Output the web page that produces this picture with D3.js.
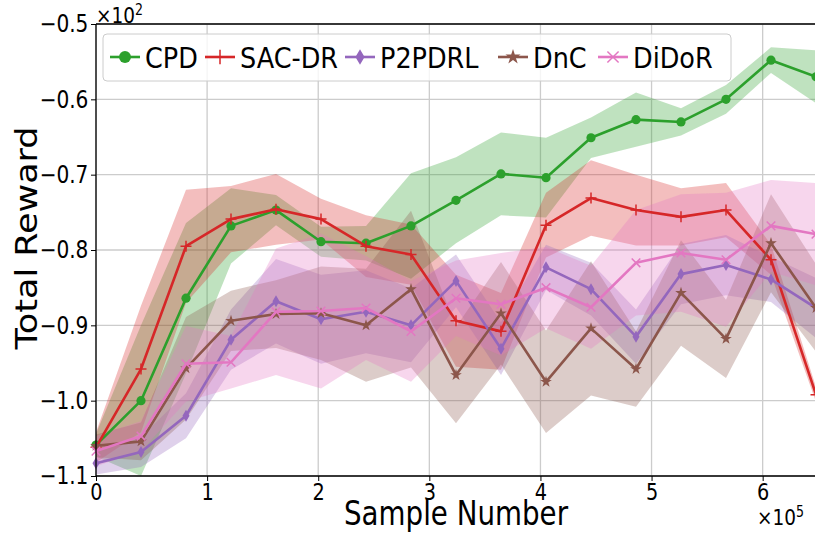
<!DOCTYPE html>
<html><head><meta charset="utf-8">
<script src="https://cdn.jsdelivr.net/npm/d3@7"></script>
<style>body{margin:0;background:#fff} svg text{font-family:"DejaVu Sans",sans-serif;fill:#000}</style>
</head><body><svg id="c" width="815" height="533"></svg>
<script>
// ---- data ----
const sampleNumber = [0, 40500, 81000, 121500, 162000, 202500, 243000, 283500, 324000, 364500, 405000, 445500, 486000, 526500, 567000, 607500, 648000];
const seriesNames = ["CPD", "SAC-DR", "P2PDRL", "DnC", "DiDoR"];
const cpdMean   = [-105.9, -100.0, -86.4, -76.8, -74.7, -78.9, -79.1, -76.8, -73.4, -69.9, -70.4, -65.1, -62.7, -63.0, -60.0, -54.8, -57.0];
const cpdStd    = [1.5, 10, 10, 5, 2, 2, 2.3, 7, 5.7, 5.5, 5.3, 2.7, 3.6, 1.8, 1.9, 1.7, 3.5];
const sacMean   = [-106.2, -95.8, -79.5, -75.9, -74.6, -75.9, -79.5, -80.6, -89.4, -90.8, -76.7, -73.1, -74.7, -75.6, -74.7, -81.3, -99.2];
const sacStd    = [2, 8.4, 7.5, 4.4, 4.7, 2.7, 4.1, 4, 6.1, 5.1, 4.3, 5, 4.7, 3.8, 3.6, 2, 1];
const p2pMean   = [-108.3, -106.8, -102.0, -91.9, -86.8, -89.2, -88.2, -90.0, -84.1, -93.1, -82.3, -85.2, -91.5, -83.2, -82.0, -83.9, -87.7];
const p2pStd    = [1.5, 2, 3, 4, 5.6, 5.9, 5.5, 4.9, 3.5, 3.5, 3, 3.5, 3.6, 4, 4, 3, 4];
const dncMean   = [-106.0, -105.4, -95.7, -89.4, -88.5, -88.4, -90.0, -85.2, -96.6, -88.4, -97.5, -90.4, -95.8, -85.7, -91.8, -79.1, -87.7];
const dncStd    = [1.5, 2.5, 6.8, 4, 4.5, 6.2, 7.5, 10.4, 6.4, 6.8, 6.8, 8.9, 5, 7, 5.2, 6.5, 5.8];
const didorMean = [-106.7, -104.7, -95.1, -94.9, -88.2, -88.1, -87.7, -90.8, -86.4, -87.2, -85.0, -87.6, -81.7, -80.4, -81.3, -76.8, -77.9];
const didorStd  = [2, 2, 5, 3.5, 8.4, 10.3, 6.9, 6.7, 5, 6.8, 5.4, 5.5, 7, 7.8, 8.9, 6.1, 6.8];
const xTicks = [0, 100000, 200000, 300000, 400000, 500000, 600000];
const xTickLabels = ["0", "1", "2", "3", "4", "5", "6"];
const yTicks = [-50, -60, -70, -80, -90, -100, -110];
const yTickLabels = ["\u22120.5", "\u22120.6", "\u22120.7", "\u22120.8", "\u22120.9", "\u22121.0", "\u22121.1"];

const colors = ["#2ca02c", "#d62728", "#9467bd", "#8c564b", "#e377c2"];
const markers = ["circle", "plus", "diamond", "star", "cross"];
const means = [cpdMean, sacMean, p2pMean, dncMean, didorMean];
const stds = [cpdStd, sacStd, p2pStd, dncStd, didorStd];

// ---- layout ----
const L = 96, T = 24, R = 816, B = 476;
const HS = 0.84; // horizontal squeeze of text
const svg = d3.select("#c");
const x = d3.scaleLinear().domain([0, 648000]).range([L, R]);
const y = d3.scaleLinear().domain([-110, -50]).range([B, T]);

// grid
const g = svg.append("g");
g.selectAll(".gx").data(xTicks).join("line")
  .attr("x1", d => x(d)).attr("x2", d => x(d)).attr("y1", T).attr("y2", B)
  .attr("stroke", "#cccccc").attr("stroke-width", 1.3);
g.selectAll(".gy").data(yTicks).join("line")
  .attr("x1", L).attr("x2", R).attr("y1", d => y(d)).attr("y2", d => y(d))
  .attr("stroke", "#cccccc").attr("stroke-width", 1.3);

// bands
const area = d3.area().x((d, i) => x(sampleNumber[i])).y0(d => y(d[0] - d[1])).y1(d => y(d[0] + d[1]));
means.forEach((m, s) => {
  const data = m.map((v, i) => [v, stds[s][i]]);
  svg.append("path").datum(data).attr("d", area)
    .attr("fill", colors[s]).attr("fill-opacity", 0.3).attr("stroke", "none");
});

// lines
const line = d3.line().x((d, i) => x(sampleNumber[i])).y(d => y(d));
function drawMarker(sel, type, color, sc) {
  if (type === "circle") {
    sel.append("circle").attr("r", 4.6 * sc).attr("fill", color);
  } else if (type === "plus") {
    const a = 5.5 * sc;
    sel.append("path").attr("d", `M${-a},0H${a}M0,${-a}V${a}`).attr("stroke", color).attr("stroke-width", 1.5).attr("fill", "none");
  } else if (type === "diamond") {
    const w = 3.5 * sc, h = 6 * sc;
    sel.append("path").attr("d", `M0,${-h}L${w},0L0,${h}L${-w},0Z`).attr("fill", color);
  } else if (type === "star") {
    sel.append("path").attr("d", d3.symbol().type(d3.symbolStar).size(42 * sc * sc)()).attr("fill", color);
  } else if (type === "cross") {
    const a = 4.3 * sc;
    sel.append("path").attr("d", `M${-a},${-a}L${a},${a}M${-a},${a}L${a},${-a}`).attr("stroke", color).attr("stroke-width", 1.5).attr("fill", "none");
  }
}
means.forEach((m, s) => {
  svg.append("path").datum(m).attr("d", line).attr("fill", "none")
    .attr("stroke", colors[s]).attr("stroke-width", 2.6).attr("stroke-linejoin", "round");
  m.forEach((v, i) => {
    const mg = svg.append("g").attr("transform", `translate(${x(sampleNumber[i])},${y(v)})`);
    drawMarker(mg, markers[s], colors[s], 1);
  });
});

// spines
svg.append("line").attr("x1", L).attr("x2", L).attr("y1", T).attr("y2", B).attr("stroke", "#000").attr("stroke-width", 1.3);
svg.append("line").attr("x1", L).attr("x2", R).attr("y1", B).attr("y2", B).attr("stroke", "#000").attr("stroke-width", 1.3);
svg.append("line").attr("x1", L).attr("x2", R).attr("y1", T).attr("y2", T).attr("stroke", "#000").attr("stroke-width", 1.3);

// axes
const xAxis = d3.axisBottom(x).tickValues(xTicks).tickFormat((d, i) => xTickLabels[i]).tickSize(5).tickPadding(3);
const gx = svg.append("g").attr("transform", `translate(0,${B})`).call(xAxis);
gx.select(".domain").remove();
gx.selectAll("text").attr("font-size", 23).attr("font-family", "DejaVu Sans").attr("transform", `scale(${HS},1)`);
const yAxis = d3.axisLeft(y).tickValues(yTicks).tickFormat((d, i) => yTickLabels[i]).tickSize(5).tickPadding(4);
const gy = svg.append("g").attr("transform", `translate(${L},0)`).call(yAxis);
gy.select(".domain").remove();
gy.selectAll("text").attr("font-size", 24).attr("font-family", "DejaVu Sans").attr("transform", `scale(${HS},1)`);

// offsets
function txt(xp, yp, size, anchor) {
  return svg.append("text").attr("transform", `translate(${xp},${yp}) scale(${HS},1)`)
    .attr("font-size", size).attr("text-anchor", anchor || "start");
}
txt(L, 23, 22).html('\u00d710<tspan dy="-8" font-size="15">2</tspan>');
txt(757, 525, 22).html('\u00d710<tspan dy="-8" font-size="15">5</tspan>');

// axis labels
txt(456, 525, 33, "middle").text("Sample Number");
svg.append("text").attr("transform", `translate(37,238) scale(${HS},1) rotate(-90)`)
  .attr("text-anchor", "middle").attr("font-size", 35).text("Total Reward");

// legend
const lg = svg.append("g");
lg.append("rect").attr("x", 103).attr("y", 34).attr("width", 628).attr("height", 47).attr("rx", 4)
  .attr("fill", "#fff").attr("fill-opacity", 0.8).attr("stroke", "#cccccc");
const handleX = [110, 205, 345, 498, 598];
seriesNames.forEach((n, s) => {
  const hx = handleX[s], hy = 57;
  lg.append("line").attr("x1", hx).attr("x2", hx + 30).attr("y1", hy).attr("y2", hy).attr("stroke", colors[s]).attr("stroke-width", 2.6);
  drawMarker(lg.append("g").attr("transform", `translate(${hx + 15},${hy})`), markers[s], colors[s], 1.3);
  lg.append("text").attr("transform", `translate(${hx + 35},${hy + 10.5}) scale(0.88,1)`).attr("font-size", 29).text(n);
});
</script>
</body></html>
